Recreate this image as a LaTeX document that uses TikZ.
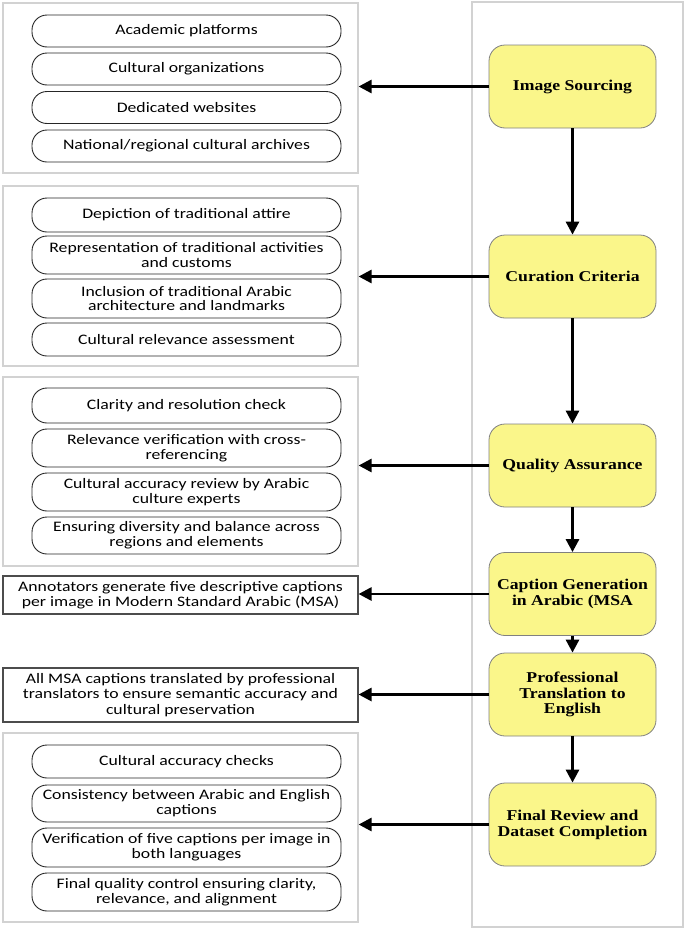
\documentclass[tikz,border=0pt]{standalone}
\usepackage{fontspec}
\setmainfont{Carlito}[FakeStretch=1.22]
\newfontfamily\stagefont{Liberation Serif}[FakeStretch=1.18]
\usetikzlibrary{arrows.meta}
\definecolor{stageyellow}{RGB}{250,246,138}
\definecolor{panelgray}{RGB}{210,210,210}

\begin{document}
\begin{tikzpicture}
          [
            x=1pt, y=-1pt,
            panel/.style={draw=panelgray, line width=1.2pt, minimum width=355pt, inner sep=0pt},
            item/.style={draw=black!85, line width=0.9pt, rounded corners=15pt, minimum width=309pt,
              inner sep=0pt, align=center, font=\fontsize{14.5}{14.8}\selectfont},
            note/.style={draw=black!70, line width=1.1pt, minimum width=355pt, inner sep=0pt,
              align=center, font=\fontsize{14.5}{15.2}\selectfont},
            stage/.style={draw=black!50, line width=0.8pt, fill=stageyellow, rounded corners=16pt,
              minimum width=167pt, minimum height=83pt, inner sep=0pt, align=center,
              font=\stagefont\bfseries\fontsize{15}{15.8}\selectfont},
            flow/.style={-{Triangle[length=13pt,width=13pt]}, line width=2.8pt}
          ]
          \useasboundingbox (0,0) rectangle (685,929);
          % right column
          \node [panel, minimum width=211pt, minimum height=925pt] (col) at (577.5,464.5) {};
          \node [stage] (src) at (572.5,86.5) {Image Sourcing};
          \node [stage] (cur) at (572.5,276.5) {Curation Criteria};
          \node [stage] (qa) at (572.5,465.5) {Quality Assurance};
          \node [stage] (cap) at (572.5,594) {Caption Generation\\in Arabic (MSA};
          \node [stage] (trn) at (572.5,694.5) {Professional\\Translation to\\English};
          \node [stage] (fin) at (572.5,824.5) {Final Review and\\Dataset Completion};
          % sourcing
          \node [panel, minimum height=170pt] (srcbox) at (180.5,88) {};
          \foreach \i/\y/\h/\t in {1/31/32/{Academic platforms},
                                   2/69/32/{Cultural organizations},
                                   3/107.5/32/{Dedicated websites},
                                   4/146/32/{National/regional cultural archives}} {
              \node [item, minimum height=\h pt] (src\i) at (186.5,\y) {\t};
          }
          % curation
          \node [panel, minimum height=180pt] (curbox) at (180.5,276) {};
          \foreach \i/\y/\h/\t in {1/215/34/{Depiction of traditional attire},
                                   2/255/38/{Representation of traditional activities\\and customs},
                                   3/298.5/39/{Inclusion of traditional Arabic\\architecture and landmarks},
                                   4/339.5/33/{Cultural relevance assessment}} {
              \node [item, minimum height=\h pt] (cur\i) at (186.5,\y) {\t};
          }
          % quality
          \node [panel, minimum height=189pt] (qabox) at (180.5,471.5) {};
          \foreach \i/\y/\h/\t in {1/405.5/35/{Clarity and resolution check},
                                   2/448/38/{Relevance verification with cross-\\referencing},
                                   3/492/38/{Cultural accuracy review by Arabic\\culture experts},
                                   4/535.5/37/{Ensuring diversity and balance across\\regions and elements}} {
              \node [item, minimum height=\h pt] (qa\i) at (186.5,\y) {\t};
          }
          % captions and translation
          \node [note, minimum height=38pt] (capbox) at (180.5,595)
            {Annotators generate five descriptive captions\\per image in Modern Standard Arabic (MSA)};
          \node [note, minimum height=54pt] (trnbox) at (180.5,695)
            {All MSA captions translated by professional\\translators to ensure semantic accuracy and\\cultural preservation};
          % final review
          \node [panel, minimum height=189pt] (finbox) at (180.5,827.5) {};
          \foreach \i/\y/\h/\t in {1/761.5/33/{Cultural accuracy checks},
                                   2/803.5/37/{Consistency between Arabic and English\\captions},
                                   3/847.5/39/{Verification of five captions per image in\\both languages},
                                   4/892/38/{Final quality control ensuring clarity,\\relevance, and alignment}} {
              \node [item, minimum height=\h pt] (fin\i) at (186.5,\y) {\t};
          }
          % flow edges
          \draw [flow] (src) -- (cur);
          \draw [flow] (cur) -- (qa);
          \draw [flow] (qa) -- (cap);
          \draw [flow] (cap) -- (trn);
          \draw [flow] (trn) -- (fin);
          % detail edges
          \draw [flow] (src.west) -- (src.west -| srcbox.east);
          \draw [flow] (cur.west) -- (cur.west -| curbox.east);
          \draw [flow] (qa.west) -- (qa.west -| qabox.east);
          \draw [flow] (cap.west) -- (cap.west -| capbox.east);
          \draw [flow] (trn.west) -- (trn.west -| trnbox.east);
          \draw [flow] (fin.west) -- (fin.west -| finbox.east);
        \end{tikzpicture}
\end{document}
